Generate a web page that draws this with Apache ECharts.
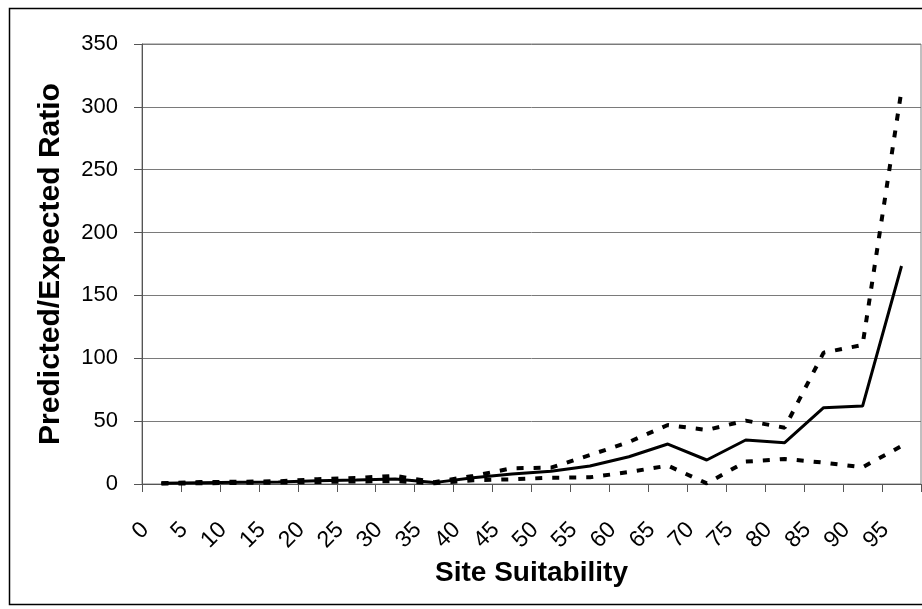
<!DOCTYPE html>
<html>
<head>
<meta charset="utf-8">
<script src="https://cdn.jsdelivr.net/npm/echarts@6/dist/echarts.min.js"></script>
<style>
  html, body { margin: 0; padding: 0; background: #fff; }
  #chart { width: 922px; height: 609px; }
</style>
</head>
<body>
<div id="chart"></div>
<script>
// site suitability classes (x axis)
var categories = ['0', '5', '10', '15', '20', '25', '30', '35', '40', '45',
                  '50', '55', '60', '65', '70', '75', '80', '85', '90', '95'];

// predicted/expected ratio
var ratioMean  = [0.5, 1, 1.3, 1.6, 2.6, 3.2, 4, 1.1, 5, 8,
                  10.1, 14.3, 21.7, 31.8, 19.1, 35, 32.9, 60.7, 62, 173.4];
var ratioUpper = [0.6, 1.5, 1.8, 2.2, 3.8, 4.8, 6.5, 1.5, 6.4, 12.5,
                  13, 23, 33.4, 46.9, 43, 50.4, 44.8, 104.5, 110.6, 313.4];
var ratioLower = [0.3, 0.6, 0.9, 1.1, 1.6, 2, 2.3, 0.6, 3, 3.7,
                  5, 5.3, 9.5, 14.6, 0.5, 17.8, 19.9, 17, 13.3, 30.2];

var yMin = 0, yMax = 350, yStep = 50;

var font = "'Liberation Sans', Arial, sans-serif";
var dashStyle = { color: '#000', width: 4, type: [7, 10], cap: 'butt' };

var chart = echarts.init(document.getElementById('chart'));

var option = {
  animation: false,
  backgroundColor: '#fff',
  textStyle: { fontFamily: font },
  graphic: [{
    type: 'rect',
    shape: { x: 9.5, y: 8.5, width: 930, height: 596 },
    style: { fill: 'none', stroke: '#000', lineWidth: 1.5 },
    silent: true
  }],
  grid: {
    left: 142, top: 44, right: 1, bottom: 125,
    show: true, borderColor: '#808080', borderWidth: 1
  },
  xAxis: {
    type: 'category',
    data: categories,
    boundaryGap: true,
    name: 'Site Suitability',
    nameLocation: 'middle',
    nameGap: 75,
    nameMoveOverlap: false,
    nameTextStyle: { fontSize: 28, fontWeight: 'bold', color: '#000', fontFamily: font },
    axisLine: { lineStyle: { color: '#555', width: 1 } },
    axisTick: { show: true, length: 8, interval: 0, lineStyle: { color: '#555' } },
    axisLabel: {
      interval: 0, rotate: 45, margin: 26, fontSize: 23, color: '#000',
      fontFamily: font, padding: [0, 23, 0, 0]
    },
    splitLine: { show: false }
  },
  yAxis: {
    type: 'value',
    min: yMin, max: yMax, interval: yStep,
    name: 'Predicted/Expected Ratio',
    nameLocation: 'middle',
    nameRotate: 90,
    nameGap: 76,
    nameMoveOverlap: false,
    nameTextStyle: { fontSize: 30, fontWeight: 'bold', color: '#000', fontFamily: font },
    axisLine: { show: true, lineStyle: { color: '#555', width: 1 } },
    axisTick: { show: true, length: 8, lineStyle: { color: '#555' } },
    axisLabel: { margin: 24, fontSize: 22, color: '#000', fontFamily: font },
    splitLine: { show: true, lineStyle: { color: '#7a7a7a', width: 1 } }
  },
  series: [
    {
      name: 'Upper',
      type: 'line',
      data: ratioUpper,
      showSymbol: false,
      lineStyle: dashStyle,
      z: 3
    },
    {
      name: 'Lower',
      type: 'line',
      data: ratioLower,
      showSymbol: false,
      lineStyle: dashStyle,
      z: 3
    },
    {
      name: 'Mean',
      type: 'line',
      data: ratioMean,
      showSymbol: false,
      lineStyle: { color: '#000', width: 3 },
      z: 4
    }
  ]
};

chart.setOption(option);
</script>
</body>
</html>
